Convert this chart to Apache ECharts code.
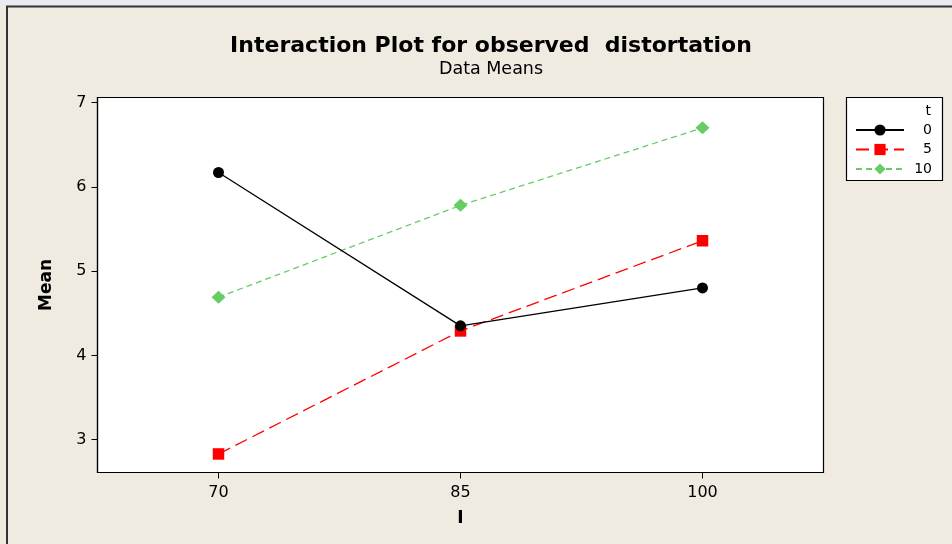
<!DOCTYPE html>
<html>
<head>
<meta charset="utf-8">
<script src="https://cdn.jsdelivr.net/npm/echarts@6/dist/echarts.min.js"></script>
<style>
html,body{margin:0;padding:0;background:#EFEBE1;}
#c{width:952px;height:544px;}
</style>
</head>
<body>
<div id="c"></div>
<script>
var categories = ['70', '85', '100'];
var seriesNames = ['0', '5', '10'];
var mean_t0 = [6.17, 4.35, 4.80];
var mean_t5 = [2.83, 4.29, 5.36];
var mean_t10 = [4.69, 5.78, 6.70];
var yTicks = [3, 4, 5, 6, 7];

var FONT = 'DejaVu Sans';
var chart = echarts.init(document.getElementById('c'), null, {renderer: 'canvas'});
chart.setOption({
  backgroundColor: '#EFEBE1',
  animation: false,
  title: {
    text: 'Interaction Plot for observed  distortation',
    subtext: 'Data Means',
    left: 486,
    textAlign: 'center',
    top: 30,
    itemGap: 3,
    textStyle: {fontFamily: FONT, fontWeight: 'bold', fontSize: 22, color: '#000'},
    subtextStyle: {fontFamily: FONT, fontSize: 17.5, color: '#000'}
  },
  graphic: [
    {type: 'rect', shape: {x: 0, y: 0, width: 952, height: 6}, style: {fill: '#E8EBF0'}, silent: true, z: -1},
    {type: 'rect', shape: {x: 7, y: 6.5, width: 960, height: 560}, style: {fill: 'none', stroke: '#333', lineWidth: 2}, silent: true, z: -1},
    {type: 'rect', shape: {x: 846.5, y: 97.5, width: 96, height: 83}, style: {fill: '#fff', stroke: '#000', lineWidth: 1.2}, silent: true, z: 0},
    {type: 'text', x: 931, y: 111, style: {text: 't', fontFamily: FONT, fontSize: 14, fill: '#000', align: 'right', verticalAlign: 'middle'}, silent: true, z: 10}
  ],
  legend: {
    data: seriesNames,
    orient: 'vertical',
    left: 855,
    top: 123,
    padding: 0,
    itemWidth: 48,
    itemHeight: 14,
    itemGap: 5.5,
    formatter: '{a|{name}}',
    textStyle: {
      fontFamily: FONT, fontSize: 14, color: '#000',
      rich: {a: {width: 23, align: 'right', fontFamily: FONT, fontSize: 14, color: '#000'}}
    },
    z: 5
  },
  grid: {
    left: 97.5, top: 97.5, right: 128.5, bottom: 71.5,
    show: true, backgroundColor: '#fff', borderColor: '#000', borderWidth: 1.2
  },
  xAxis: {
    type: 'category',
    data: categories,
    boundaryGap: true,
    name: 'I',
    nameLocation: 'middle',
    nameGap: 38,
    nameTextStyle: {fontFamily: FONT, fontWeight: 'bold', fontSize: 17, color: '#000'},
    axisLine: {show: true, lineStyle: {color: '#000', width: 1.2}},
    axisTick: {show: true, alignWithLabel: true, length: 6, lineStyle: {color: '#000'}},
    axisLabel: {fontFamily: FONT, fontSize: 16, color: '#000', margin: 12},
    splitLine: {show: false}
  },
  yAxis: {
    type: 'value',
    min: 2.61,
    max: 7.06,
    name: 'Mean',
    nameLocation: 'middle',
    nameGap: 42,
    nameTextStyle: {fontFamily: FONT, fontWeight: 'bold', fontSize: 17, color: '#000'},
    axisLine: {show: true, lineStyle: {color: '#000', width: 1.2}},
    axisTick: {show: true, length: 6, lineStyle: {color: '#000'}, customValues: yTicks},
    axisLabel: {fontFamily: FONT, fontSize: 16, color: '#000', margin: 11, customValues: yTicks},
    splitLine: {show: false}
  },
  series: [
    {
      name: seriesNames[0], type: 'line', data: mean_t0,
      symbol: 'circle', symbolSize: 11,
      itemStyle: {color: '#000'},
      lineStyle: {color: '#000', width: 1.3, type: 'solid'},
      z: 4
    },
    {
      name: seriesNames[1], type: 'line', data: mean_t5,
      symbol: 'rect', symbolSize: 11.5,
      itemStyle: {color: '#FF0000'},
      lineStyle: {color: '#FF0000', width: 1.3, type: [13, 6]},
      z: 3
    },
    {
      name: seriesNames[2], type: 'line', data: mean_t10,
      symbol: 'diamond', symbolSize: [14, 13],
      itemStyle: {color: '#66CC66'},
      lineStyle: {color: '#66CC66', width: 1.3, type: [6, 4]},
      z: 2
    }
  ]
});
</script>
</body>
</html>
